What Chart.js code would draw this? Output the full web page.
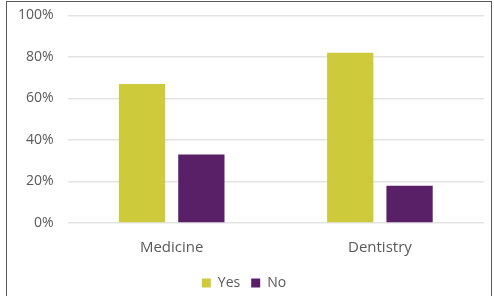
<!DOCTYPE html>
<html>
<head>
<meta charset="utf-8">
<script src="https://cdn.jsdelivr.net/npm/chart.js@4"></script>
<style>
  html, body { margin: 0; padding: 0; background: #fff; overflow: hidden; }
  #frame {
    position: absolute;
    left: 6px; top: 1px;
    width: 486px; height: 300px;
    border: 1.5px solid #5a5a5a;
    box-sizing: border-box;
  }
  #wrap { position: absolute; left: 0; top: -7px; width: 494px; height: 307px; }
</style>
</head>
<body>
<div id="frame"></div>
<div id="wrap"><canvas id="chart"></canvas></div>
<script>
const categories = ['Medicine', 'Dentistry']
const yesValues = [67, 82]
const noValues = [33, 18]
const tickValues = [0, 20, 40, 60, 80, 100]

const textColor = '#595959'
const fontFamily = '"Open Sans", "Noto Sans", sans-serif'

const ctx = document.getElementById('chart').getContext('2d')

new Chart(ctx, {
  type: 'bar',
  data: {
    labels: categories,
    datasets: [
      {
        label: 'Yes',
        data: yesValues,
        backgroundColor: '#cdcb3c',
        categoryPercentage: 0.57,
        barPercentage: 0.78,
      },
      {
        label: 'No',
        data: noValues,
        backgroundColor: '#5a2067',
        categoryPercentage: 0.57,
        barPercentage: 0.78,
      },
    ],
  },
  options: {
    responsive: true,
    maintainAspectRatio: false,
    animation: false,
    layout: {
      padding: { left: 4, right: 10, top: 5, bottom: 0 },
    },
    scales: {
      x: {
        grid: { display: false },
        border: { display: false },
        ticks: {
          color: textColor,
          font: { family: fontFamily, size: 15 },
          padding: 8,
        },
      },
      y: {
        min: 0,
        max: 100,
        afterBuildTicks(axis) {
          axis.ticks = tickValues.map((v) => ({ value: v }))
        },
        grid: { color: '#e3e3e3', lineWidth: 1.5, drawTicks: false },
        border: { display: false },
        ticks: {
          color: textColor,
          font: { family: fontFamily, size: 14 },
          padding: 14,
          callback: (v) => `${v}%`,
        },
      },
    },
    plugins: {
      legend: {
        position: 'bottom',
        labels: {
          color: textColor,
          font: { family: fontFamily, size: 14 },
          boxWidth: 9,
          boxHeight: 9,
          padding: 11,
        },
      },
      tooltip: { enabled: false },
    },
  },
})
</script>
</body>
</html>
